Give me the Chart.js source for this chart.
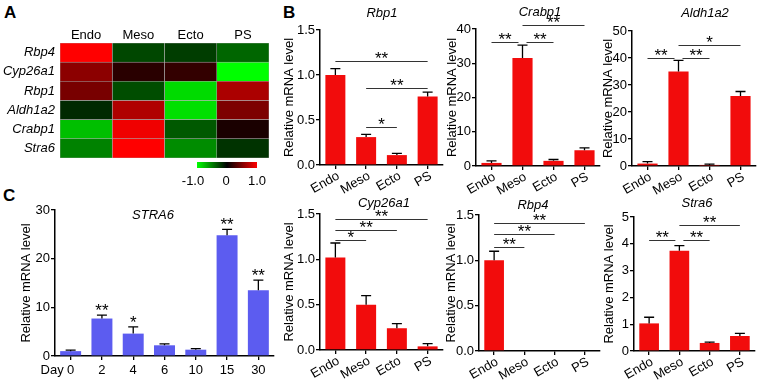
<!DOCTYPE html>
<html><head><meta charset="utf-8">
<script src="https://cdn.jsdelivr.net/npm/chart.js@4.4.0/dist/chart.umd.min.js"></script>
<style>
html,body{margin:0;padding:0;background:#fff;}
#fig{position:relative;width:760px;height:381px;overflow:hidden;background:#fff;font-family:Arial,"Liberation Sans",sans-serif;}
#fig canvas{position:absolute;}
.lt{position:absolute;font-weight:bold;font-size:17px;line-height:17px;color:#000;}
</style></head><body>
<div id="fig">
<div class="lt" style="left:4px;top:4px">A</div>
<div class="lt" style="left:283px;top:4px">B</div>
<div class="lt" style="left:3px;top:187px">C</div>
</div>
<script>
// ---------- DATA ----------
const heatGenes = ['Rbp4','Cyp26a1','Rbp1','Aldh1a2','Crabp1','Stra6'];
const heatCols = ['Endo','Meso','Ecto','PS'];
const heatEndo = [1.0, 0.55, 0.47, -0.16, -0.75, -0.51];
const heatMeso = [-0.28, 0.16, -0.30, 0.69, 0.94, 1.0];
const heatEcto = [-0.24, 0.20, -0.86, -0.88, -0.35, -0.55];
const heatPS   = [-0.40, -1.0, 0.67, 0.49, 0.10, -0.20];
const heatBarLabels = ['-1.0','0','1.0'];

const bCats = ['Endo','Meso','Ecto','PS'];
const rbp1 = [1.00, 0.31, 0.11, 0.76];
const rbp1Err = [0.07, 0.03, 0.02, 0.05];
const rbp1Sig = [[0,3,1.16,'**'],[1,3,0.86,'**'],[1,2,0.42,'*']];
const crabp1 = [0.9, 31.5, 1.5, 4.6];
const crabp1Err = [0.6, 3.8, 0.4, 0.7];
const crabp1Sig = [[0,1,36.3,'**'],[1,2,36.3,'**'],[1,3,41.3,'**']];
const aldh1a2 = [0.9, 35.0, 0.4, 25.9];
const aldh1a2Err = [0.7, 4.1, 0.3, 1.7];
const aldh1a2Sig = [[0,1,40.1,'**'],[1,2,40.1,'**'],[1,3,44.7,'*']];
const cyp26a1 = [1.02, 0.50, 0.24, 0.04];
const cyp26a1Err = [0.16, 0.10, 0.05, 0.03];
const cyp26a1Sig = [[0,1,1.21,'*'],[0,2,1.32,'**'],[0,3,1.44,'**']];
const rbp4 = [1.0, 0, 0, 0];
const rbp4Err = [0.10, 0, 0, 0];
const rbp4Sig = [[0,1,1.15,'**'],[0,2,1.29,'**'],[0,3,1.41,'**']];
const stra6 = [1.03, 3.74, 0.30, 0.56];
const stra6Err = [0.23, 0.19, 0.03, 0.10];
const stra6Sig = [[0,1,4.15,'**'],[1,2,4.15,'**'],[1,3,4.69,'**']];

const days = ['0','2','4','6','10','15','30'];
const stra6Day = [1.0, 7.7, 4.6, 2.2, 1.3, 24.8, 13.5];
const stra6DayErr = [0.2, 0.7, 1.4, 0.3, 0.2, 1.2, 2.1];
const stra6DayStars = ['', '**', '*', '', '', '**', '**'];

// ---------- SETUP ----------
const FONT = 'Arial, "Liberation Sans", sans-serif';
Chart.defaults.font.family = FONT;
Chart.defaults.font.size = 13;
Chart.defaults.color = '#000';
const fig = document.getElementById('fig');
function addCanvas(left, top, w, h){
  const cv = document.createElement('canvas');
  cv.width = w; cv.height = h;
  cv.style.left = left + 'px'; cv.style.top = top + 'px';
  cv.style.width = w + 'px'; cv.style.height = h + 'px';
  fig.appendChild(cv);
  return cv;
}

// ---------- HEATMAP (A) ----------
function heatColor(v){
  const c = Math.round(255 * Math.min(1, Math.abs(v)));
  return v >= 0 ? `rgb(${c},0,0)` : `rgb(0,${c},0)`;
}
(function(){
  const cv = addCanvas(0, 0, 275, 190);
  const colorbar = {
    id: 'colorbar',
    afterDraw(chart){
      const ctx = chart.ctx;
      ctx.save();
      const g = ctx.createLinearGradient(197, 0, 257, 0);
      g.addColorStop(0, 'rgb(0,255,0)');
      g.addColorStop(0.5, 'rgb(0,0,0)');
      g.addColorStop(1, 'rgb(255,0,0)');
      ctx.fillStyle = g;
      ctx.fillRect(197, 162, 60, 6);
      ctx.fillStyle = '#000';
      ctx.font = '13px ' + FONT;
      ctx.textAlign = 'center';
      ctx.textBaseline = 'middle';
      const xs = [193, 226, 257];
      heatBarLabels.forEach((t, i) => ctx.fillText(t, xs[i], 181));
      ctx.restore();
    }
  };
  new Chart(cv, {
    type: 'bar',
    data: {
      labels: heatGenes,
      datasets: [heatEndo, heatMeso, heatEcto, heatPS].map(col => ({
        data: col.map(() => 1),
        backgroundColor: col.map(heatColor),
        borderColor: 'rgb(170,170,170)',
        borderWidth: 0.6,
        borderSkipped: false,
        barPercentage: 1,
        categoryPercentage: 1
      }))
    },
    options: {
      indexAxis: 'y', responsive: false, animation: false, events: [],
      layout: { padding: { top: 0, right: 6, bottom: 32, left: 0 } },
      plugins: { legend: { display: false }, tooltip: { enabled: false } },
      scales: {
        x: {
          type: 'linear', position: 'top', stacked: true, min: 0, max: 4,
          afterBuildTicks: s => { s.ticks = heatCols.map((c, i) => ({ value: i + 0.5 })); },
          ticks: { callback: (v, i) => heatCols[i], padding: 0, font: { size: 13 }, color: '#000' },
          grid: { display: false, drawTicks: false }, border: { display: false },
          afterFit: s => { s.height = 43; }
        },
        y: {
          stacked: true,
          grid: { display: false, drawTicks: false }, border: { display: false },
          ticks: { font: { size: 13, style: 'italic' }, padding: 5, color: '#000' },
          afterFit: s => { s.width = 60; }
        }
      }
    },
    plugins: [colorbar]
  });
})();

// ---------- BAR CHARTS ----------
function extrasPlugin(o){
  return {
    id: 'extras',
    afterDatasetsDraw(chart){
      const ctx = chart.ctx, xs = chart.scales.x, ys = chart.scales.y, ca = chart.chartArea;
      const d = chart.data.datasets[0].data;
      ctx.save();
      // error bars
      ctx.strokeStyle = '#000'; ctx.lineWidth = 1.3;
      o.err.forEach((e, i) => {
        if (!e) return;
        const px = xs.getPixelForValue(i);
        const yt = ys.getPixelForValue(d[i]);
        const ye = ys.getPixelForValue(d[i] + e);
        ctx.beginPath();
        ctx.moveTo(px, yt); ctx.lineTo(px, ye);
        ctx.moveTo(px - 5, ye); ctx.lineTo(px + 5, ye);
        ctx.stroke();
      });
      ctx.fillStyle = '#000';
      ctx.textAlign = 'center';
      ctx.textBaseline = 'alphabetic';
      ctx.font = '17px ' + FONT;
      // significance lines
      (o.sig || []).forEach(s => {
        let x1 = xs.getPixelForValue(s[0]), x2 = xs.getPixelForValue(s[1]);
        (o.sig || []).forEach(t => {
          if (t === s || Math.abs(t[2] - s[2]) > 1e-9) return;
          if (t[1] === s[0]) x1 += 4;
          if (t[0] === s[1]) x2 -= 4;
        });
        const y = Math.round(ys.getPixelForValue(s[2])) + 0.5;
        ctx.strokeStyle = '#333'; ctx.lineWidth = 1;
        ctx.beginPath(); ctx.moveTo(x1, y); ctx.lineTo(x2, y); ctx.stroke();
        ctx.fillText(s[3], (x1 + x2) / 2, y + 2);
      });
      // stars above bars
      (o.stars || []).forEach((st, i) => {
        if (!st) return;
        const px = xs.getPixelForValue(i);
        const ye = ys.getPixelForValue(d[i] + (o.err[i] || 0));
        ctx.fillText(st, px, ye + 1);
      });
      // rotated category labels
      if (o.rot) {
        ctx.font = '13px ' + FONT;
        ctx.textAlign = 'right';
        ctx.textBaseline = 'middle';
        chart.data.labels.forEach((lab, i) => {
          const px = xs.getPixelForValue(i);
          ctx.save();
          ctx.translate(px + 3, ca.bottom + 10);
          ctx.rotate(-o.rot * Math.PI / 180);
          ctx.fillText(lab, 0, 0);
          ctx.restore();
        });
      }
      // title
      ctx.font = 'italic 13px ' + FONT;
      ctx.textAlign = 'center';
      ctx.textBaseline = 'middle';
      ctx.fillText(o.title, o.titleX - o.left, o.titleY - o.top);
      // extra "Day" label
      if (o.dayLabel) {
        ctx.font = '13px ' + FONT;
        ctx.textAlign = 'right';
        ctx.textBaseline = 'middle';
        ctx.fillText(o.dayLabel, xs.getPixelForValue(0) - 7, ca.bottom + 14);
      }
      ctx.restore();
    }
  };
}

function makeBarChart(o){
  const cv = addCanvas(o.left, o.top, o.w, o.h);
  const caL = o.area[0] - o.left, caR = o.area[1] - o.left;
  const caT = o.area[2] - o.top, caB = o.area[3] - o.top;
  const xH = o.h - caB;
  new Chart(cv, {
    type: 'bar',
    data: {
      labels: o.labels,
      datasets: [{ data: o.data, backgroundColor: o.color, borderWidth: 0, barPercentage: o.bp, categoryPercentage: 1 }]
    },
    options: {
      responsive: false, animation: false, events: [],
      layout: { padding: { left: caL - o.yW, right: o.w - caR, top: caT, bottom: 0 } },
      plugins: { legend: { display: false }, tooltip: { enabled: false } },
      scales: {
        x: {
          grid: { display: true, drawOnChartArea: false, drawTicks: true, tickLength: 4, color: '#000', lineWidth: 1.3, offset: false },
          border: { display: true, color: '#000', width: 1.5 },
          ticks: { display: !o.rot, autoSkip: false, maxRotation: 0, padding: 3, font: { size: 13 }, color: '#000' },
          afterFit: s => { s.height = xH; }
        },
        y: {
          min: o.ymin, max: o.ymax,
          grid: { display: true, drawOnChartArea: false, drawTicks: true, tickLength: 4, color: '#000', lineWidth: 1.3 },
          border: { display: true, color: '#000', width: 1.5 },
          ticks: { stepSize: o.step, padding: 1, font: { size: 13 }, color: '#000', callback: v => Number(v).toFixed(o.dec) },
          title: { display: true, text: 'Relative mRNA level', font: { size: 13 }, color: '#000', padding: { top: 0, bottom: 0 } },
          afterFit: s => { s.width = o.yW; }
        }
      }
    },
    plugins: [extrasPlugin(o)]
  });
}

const RED = 'rgb(242,12,12)';
const BLUE = 'rgb(92,92,240)';
const common = { labels: bCats, color: RED, bp: 0.65, rot: 30 };

makeBarChart(Object.assign({}, common, { left: 282, top: 0, w: 170, h: 200, yW: 38, area: [320, 443, 30, 165],
  data: rbp1, err: rbp1Err, sig: rbp1Sig, ymin: 0, ymax: 1.5, step: 0.5, dec: 1, title: 'Rbp1', titleX: 382, titleY: 13 }));
makeBarChart(Object.assign({}, common, { left: 445, top: 0, w: 161, h: 200, yW: 31, area: [476, 600, 29, 166],
  data: crabp1, err: crabp1Err, sig: crabp1Sig, ymin: 0, ymax: 40, step: 10, dec: 0, title: 'Crabp1', titleX: 540, titleY: 12 }));
makeBarChart(Object.assign({}, common, { left: 601, top: 0, w: 159, h: 200, yW: 31, area: [632, 756, 31, 166],
  data: aldh1a2, err: aldh1a2Err, sig: aldh1a2Sig, ymin: 0, ymax: 50, step: 10, dec: 0, title: 'Aldh1a2', titleX: 705, titleY: 13 }));
makeBarChart(Object.assign({}, common, { left: 282, top: 190, w: 170, h: 191, yW: 38, area: [320, 443, 214, 350],
  data: cyp26a1, err: cyp26a1Err, sig: cyp26a1Sig, ymin: 0, ymax: 1.5, step: 0.5, dec: 1, title: 'Cyp26a1', titleX: 384, titleY: 203 }));
makeBarChart(Object.assign({}, common, { left: 444, top: 190, w: 162, h: 191, yW: 35, area: [479, 600, 215, 351],
  data: rbp4, err: rbp4Err, sig: rbp4Sig, ymin: 0, ymax: 1.5, step: 0.5, dec: 1, title: 'Rbp4', titleX: 533, titleY: 205 }));
makeBarChart(Object.assign({}, common, { left: 602, top: 190, w: 158, h: 191, yW: 32, area: [634, 755, 217, 351],
  data: stra6, err: stra6Err, sig: stra6Sig, ymin: 0, ymax: 5, step: 1, dec: 0, title: 'Stra6', titleX: 697, titleY: 203 }));
makeBarChart({ labels: days, color: BLUE, bp: 0.67, rot: 0,
  left: 19, top: 190, w: 262, h: 191, yW: 36, area: [55, 274, 210, 356],
  data: stra6Day, err: stra6DayErr, stars: stra6DayStars, ymin: 0, ymax: 30, step: 10, dec: 0,
  title: 'STRA6', titleX: 153, titleY: 215, dayLabel: 'Day' });
</script>
</body></html>
